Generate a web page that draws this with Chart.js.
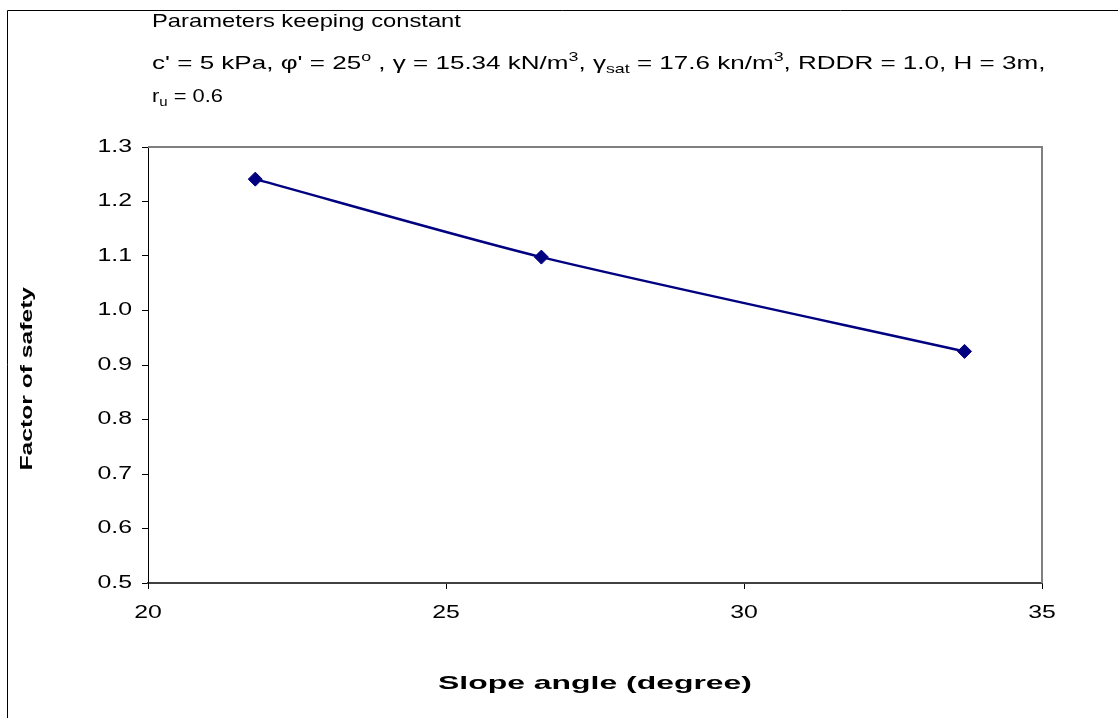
<!DOCTYPE html>
<html>
<head>
<meta charset="utf-8">
<script src="https://cdn.jsdelivr.net/npm/chart.js@4/dist/chart.umd.min.js"></script>
<style>
  html, body { margin: 0; padding: 0; background: #fff; }
  #wrap { width: 1118px; height: 718px; }
</style>
</head>
<body>
<div id="wrap"><canvas id="c" width="1118" height="718"></canvas></div>
<script>
// Slope angle (degree) vs factor of safety
const slopeAngles = [21.8, 26.6, 33.7];
const factorOfSafety = [1.241, 1.098, 0.925];
const xTicks = [20, 25, 30, 35];
const yTicks = [0.5, 0.6, 0.7, 0.8, 0.9, 1.0, 1.1, 1.2, 1.3];

const FONT = '"Liberation Sans", Arial, sans-serif';
const X_TITLE = 'Slope angle (degree)';
const Y_TITLE = 'Factor of safety    ';

// Wide-set text: glyphs are drawn stretched horizontally along the text direction
const textStretch = {default: 1.38};
textStretch[X_TITLE] = 1.68;
textStretch[Y_TITLE] = 1.45;
let stretchOverride = null;
const stretchFor = t => stretchOverride !== null ? stretchOverride
  : (t in textStretch ? textStretch[t] : textStretch.default);

(function () {
  const proto = CanvasRenderingContext2D.prototype;
  const baseFill = proto.fillText;
  proto.fillText = function (text, x, y) {
    const sx = stretchFor(String(text));
    this.save();
    this.translate(x, y);
    this.scale(sx, 1);
    baseFill.call(this, text, 0, 0);
    this.restore();
  };
})();

// Runs of text with optional super/subscript parts, one stretch per line
const noteLines = [
  {sx: 1.25, runs: [{t: 'Parameters keeping constant'}]},
  {sx: 1.37, runs: [{t: "c' = 5 kPa, \u03C6' = 25"}, {t: 'o', m: 'sup'}, {t: ' , \u03B3 = 15.34 kN/m'}, {t: '3', m: 'sup'},
   {t: ', \u03B3'}, {t: 'sat', m: 'sub'}, {t: ' = 17.6 kn/m'}, {t: '3', m: 'sup'}, {t: ', RDDR = 1.0, H = 3m,'}]},
  {sx: 1.15, runs: [{t: 'r'}, {t: 'u', m: 'sub'}, {t: ' = 0.6'}]}
];

const frameAndNotes = {
  id: 'frameAndNotes',
  beforeDraw(chart) {
    const ctx = chart.ctx;
    ctx.save();
    ctx.fillStyle = '#fff';
    ctx.fillRect(0, 0, chart.width, chart.height);
    // outer chart frame
    ctx.strokeStyle = '#000';
    ctx.lineWidth = 1;
    ctx.beginPath();
    ctx.moveTo(7.5, chart.height);
    ctx.lineTo(7.5, 10.5);
    ctx.lineTo(chart.width, 10.5);
    ctx.stroke();
    // parameter notes
    const size = 19, small = 13;
    const baselines = [27, 69, 102];
    ctx.fillStyle = '#000';
    ctx.textAlign = 'left';
    ctx.textBaseline = 'alphabetic';
    noteLines.forEach((line, i) => {
      let x = 152;
      const y = baselines[i];
      stretchOverride = line.sx;
      line.runs.forEach(r => {
        let s = size, dy = 0;
        if (r.m === 'sup') { s = small; dy = -8; }
        if (r.m === 'sub') { s = small; dy = 4; }
        ctx.font = s + 'px ' + FONT;
        ctx.fillText(r.t, x, y + dy);
        x += ctx.measureText(r.t).width * line.sx;
      });
      stretchOverride = null;
    });
    ctx.restore();
  },
  afterDraw(chart) {
    const {ctx, chartArea: a} = chart;
    ctx.save();
    // top and right plot edges
    ctx.strokeStyle = '#808080';
    ctx.lineWidth = 2;
    ctx.beginPath();
    ctx.moveTo(a.left, a.top);
    ctx.lineTo(a.right, a.top);
    ctx.lineTo(a.right, a.bottom);
    ctx.stroke();
    ctx.restore();
  }
};

new Chart(document.getElementById('c'), {
  type: 'line',
  data: {
    datasets: [{
      data: slopeAngles.map((x, i) => ({x, y: factorOfSafety[i]})),
      borderColor: '#000080',
      backgroundColor: '#000080',
      borderWidth: 2.5,
      tension: 0.25,
      pointStyle: 'rectRot',
      pointRadius: 7,
      pointBorderWidth: 1,
      pointBorderColor: '#000080',
      pointBackgroundColor: '#000080',
      clip: false
    }]
  },
  options: {
    responsive: false,
    animation: false,
    devicePixelRatio: 1,
    layout: {padding: {left: 0, right: 76, top: 147, bottom: 0}},
    plugins: {legend: {display: false}, tooltip: {enabled: false}},
    scales: {
      x: {
        type: 'linear',
        min: 20, max: 35,
        afterBuildTicks: s => { s.ticks = xTicks.map(v => ({value: v})); },
        afterFit: s => { s.height = 135; },
        grid: {drawOnChartArea: false, drawTicks: true, tickLength: 6, color: '#000', lineWidth: 1},
        border: {display: true, color: '#404040', width: 2},
        ticks: {color: '#000', font: {family: FONT, size: 18}, padding: 13, maxRotation: 0},
        title: {display: true, text: X_TITLE, color: '#000',
                font: {family: FONT, size: 19, weight: 'bold'}, padding: {top: 0, bottom: 23}}
      },
      y: {
        type: 'linear',
        min: 0.5, max: 1.3,
        afterBuildTicks: s => { s.ticks = yTicks.map(v => ({value: v})); },
        afterFit: s => { s.width = 148; },
        grid: {drawOnChartArea: false, drawTicks: true, tickLength: 6, color: '#000', lineWidth: 1},
        border: {display: true, color: '#000', width: 1},
        ticks: {color: '#000', font: {family: FONT, size: 18}, padding: 10,
                callback: v => Number(v).toFixed(1)},
        title: {display: true, text: Y_TITLE, color: '#000',
                font: {family: FONT, size: 17, weight: 'bold'}, padding: {top: 17, bottom: 0}}
      }
    }
  },
  plugins: [frameAndNotes]
});
</script>
</body>
</html>
